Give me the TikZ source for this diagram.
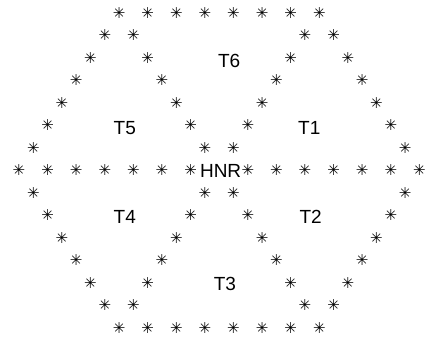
\documentclass[tikz,border=0pt]{standalone}
\usepackage{fontspec}
\setmainfont{Liberation Sans}
\newfontfamily\astfont{DejaVu Sans}
\tikzset{
  ast/.style={inner sep=0pt, font=\astfont\fontsize{15}{15}\selectfont},
  tlab/.style={inner sep=0pt, font=\fontsize{19}{19}\selectfont},
  every picture/.append style={line join=round}
}
\begin{document}
\begin{tikzpicture}
  \useasboundingbox (0pt,0pt) rectangle (427pt,-341pt);
  \begin{scope}[shift={(19pt,-13pt)}, x=14.3pt, y=-22.5pt]
    % hexagon outline and the three diagonals, row by row
    \foreach \r/\cols in {0/{7,9,11,13,15,17,19,21},
                          1/{6,8,20,22}, 2/{5,9,19,23}, 3/{4,10,18,24},
                          4/{3,11,17,25}, 5/{2,12,16,26}, 6/{1,13,15,27},
                          7/{0,2,4,6,8,10,12,16,18,20,22,24,26,28},
                          8/{1,13,15,27}, 9/{2,12,16,26}, 10/{3,11,17,25},
                          11/{4,10,18,24}, 12/{5,9,19,23}, 13/{6,8,20,22},
                          14/{7,9,11,13,15,17,19,21}}
      \foreach \c in \cols
        \node[ast] (a-\c-\r) at (\c,\r) {✳};
    % centre and triangles
    \node[tlab] (hnr) at (14.1,7) {HNR};
    \node[tlab] (t6) at (14.7,2.15) {T6};
    \node[tlab] (t5) at (7.4,5.1) {T5};
    \node[tlab] (t1) at (20.3,5.1) {T1};
    \node[tlab] (t4) at (7.4,9.05) {T4};
    \node[tlab] (t2) at (20.4,9.05) {T2};
    \node[tlab] (t3) at (14.4,12.05) {T3};
  \end{scope}
\end{tikzpicture}
\end{document}
